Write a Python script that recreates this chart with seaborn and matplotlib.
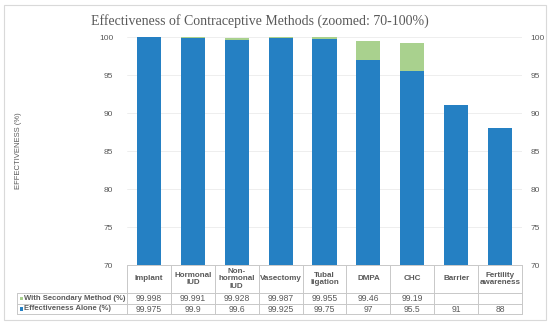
import pandas as pd
import matplotlib
matplotlib.use("Agg")
import matplotlib.pyplot as plt
from matplotlib.lines import Line2D
from matplotlib.patches import Rectangle
import seaborn as sns

# data
methods = ["Implant", "Hormonal\nIUD", "Non-\nhormonal\nIUD", "Vasectomy", "Tubal\nligation",
           "DMPA", "CHC", "Barrier", "Fertility\nawareness"]
with_secondary = [99.998, 99.991, 99.928, 99.987, 99.955, 99.46, 99.19, None, None]
alone = [99.975, 99.9, 99.6, 99.925, 99.75, 97, 95.5, 91, 88]
sec_labels = ["99.998", "99.991", "99.928", "99.987", "99.955", "99.46", "99.19", "", ""]
alone_labels = ["99.975", "99.9", "99.6", "99.925", "99.75", "97", "95.5", "91", "88"]
yticks = [70, 75, 80, 85, 90, 95, 100]

df = pd.DataFrame({"Method": methods, "Secondary": with_secondary, "Alone": alone})

sns.set_theme(style="white")
plt.rcParams["font.family"] = ["Liberation Sans", "DejaVu Sans"]

blue = "#2580C3"
green = "#A9D18E"
grey_txt = "#595959"
line_col = "#C8C8C8"

W, H = 550, 325
fig = plt.figure(figsize=(5.5, 3.25), dpi=100)

def fx(px):
    return px / W

def fy(py):
    return 1 - py / H

left, right, top, bottom = 127, 522, 37, 265
ax = fig.add_axes([fx(left), fy(bottom), fx(right - left), (bottom - top) / H])

sns.barplot(data=df.dropna(subset=["Secondary"]), x="Method", y="Secondary", order=methods,
            color=green, width=0.55, saturation=1, linewidth=0, ax=ax)
sns.barplot(data=df, x="Method", y="Alone", order=methods,
            color=blue, width=0.55, saturation=1, linewidth=0, ax=ax)

ax.set_ylim(70, 100)
ax.set_xlim(-0.5, len(methods) - 0.5)
ax.set_yticks(yticks)
ax.set_yticklabels([str(t) for t in yticks], fontsize=6, color=grey_txt)
ax.set_xticks([])
ax.set_xlabel("")
ax.set_ylabel("EFFECTIVENESS (%)", fontsize=5.5, color=grey_txt, labelpad=0)
ax.yaxis.set_label_coords((22 - left) / (right - left), 0.5)
ax.grid(axis="y", color="#EBEBEB", linewidth=0.6)
ax.set_axisbelow(True)
ax.tick_params(axis="y", length=0, pad=10)
for s in ax.spines.values():
    s.set_visible(False)

ax2 = ax.twinx()
ax2.set_ylim(70, 100)
ax2.set_yticks(yticks)
ax2.set_yticklabels([str(t) for t in yticks], fontsize=6, color=grey_txt)
ax2.tick_params(axis="y", length=0, pad=6)
for s in ax2.spines.values():
    s.set_visible(False)

# title
fig.text(fx(260), fy(21), "Effectiveness of Contraceptive Methods (zoomed: 70-100%)",
         ha="center", va="center", fontsize=10, color=grey_txt,
         family=["Liberation Serif", "DejaVu Serif"])

# data table below the plot
col_w = (right - left) / len(methods)
rows_y = [265, 293, 304, 314]

def hline(x0, x1, y):
    fig.add_artist(Line2D([fx(x0), fx(x1)], [fy(y), fy(y)], color=line_col, lw=0.7))

def vline(x, y0, y1):
    fig.add_artist(Line2D([fx(x), fx(x)], [fy(y0), fy(y1)], color=line_col, lw=0.7))

hline(left, right, rows_y[0])
for y in rows_y[1:]:
    hline(17, right, y)
vline(17, rows_y[1], rows_y[3])
for i in range(len(methods) + 1):
    vline(left + i * col_w, rows_y[0], rows_y[3])

for i, m in enumerate(methods):
    cx = left + (i + 0.5) * col_w
    fig.text(fx(cx), fy((rows_y[0] + rows_y[1]) / 2), m, ha="center", va="center",
             fontsize=5.8, fontweight="bold", color=grey_txt, linespacing=1.05)
    fig.text(fx(cx), fy((rows_y[1] + rows_y[2]) / 2), sec_labels[i], ha="center", va="center",
             fontsize=6.2, color=grey_txt)
    fig.text(fx(cx), fy((rows_y[2] + rows_y[3]) / 2), alone_labels[i], ha="center", va="center",
             fontsize=6.2, color=grey_txt)

row_names = ["With Secondary Method (%)", "Effectiveness Alone (%)"]
row_cols = [green, blue]
for j, (name, c) in enumerate(zip(row_names, row_cols)):
    cy = (rows_y[j + 1] + rows_y[j + 2]) / 2
    fig.add_artist(Rectangle((fx(19.5), fy(cy + 1.7)), fx(3.4), 3.4 / H, color=c, lw=0))
    fig.text(fx(24.5), fy(cy), name, ha="left", va="center", fontsize=5.5,
             fontweight="bold", color=grey_txt)

# chart border
fig.add_artist(Rectangle((fx(4), fy(320)), fx(542), 315 / H, fill=False,
                         edgecolor="#D9D9D9", lw=0.8))

fig.savefig("out.png", dpi=100)
